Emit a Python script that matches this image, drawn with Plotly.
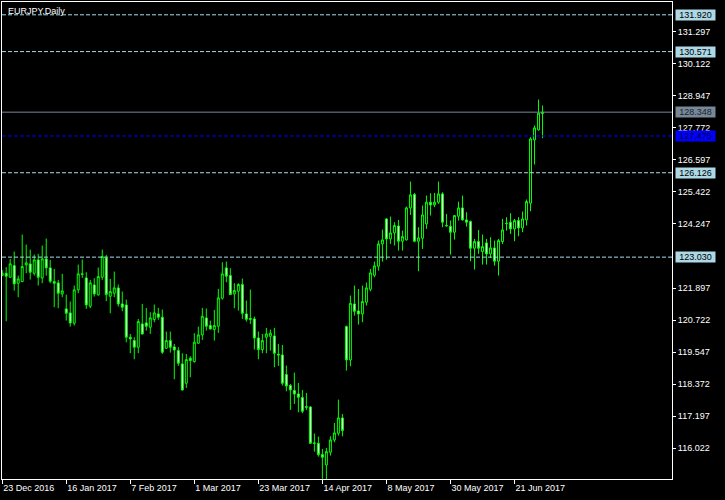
import plotly.graph_objects as go

# ---------------- data ----------------
tick_labels = ["23 Dec 2016", "16 Jan 2017", "7 Feb 2017", "1 Mar 2017", "23 Mar 2017",
               "14 Apr 2017", "8 May 2017", "30 May 2017", "21 Jun 2017"]
tick_bars = [0, 16, 32, 48, 64, 80, 96, 112, 128]

opens = [122.36, 122.439, 122.293, 122.721, 122.072, 122.134, 122.745, 122.782, 122.439, 122.929,
         122.268, 122.965, 122.635, 122.134, 122.085, 121.681, 121.131, 120.984, 120.605, 121.828,
         122.415, 122.268, 121.228, 122.011, 121.644, 122.293, 123.002, 121.595, 121.705, 121.901,
         121.314, 121.277, 120.091, 119.968, 119.724, 120.580, 120.617, 120.458, 120.739, 120.947,
         120.825, 119.687, 119.968, 119.736, 119.601, 119.112, 118.403, 119.320, 119.198, 119.871,
         120.176, 120.800, 120.519, 120.372, 120.494, 121.522, 122.635, 122.354, 121.681, 121.779,
         122.023, 120.947, 120.776, 120.764, 120.066, 119.638, 120.091, 120.127, 120.140, 119.467,
         119.442, 118.721, 118.317, 118.134, 118.011, 117.877, 117.546, 117.534, 116.213, 116.201,
         115.785, 115.406, 115.871, 116.323, 116.568, 117.131, 120.481, 119.258, 121.313, 121.056,
         120.946, 121.374, 121.851, 122.365, 122.695, 123.515, 124.432, 123.698, 123.919, 124.175,
         123.613, 123.662, 124.836, 125.325, 123.613, 123.723, 124.249, 125.044, 124.946, 125.044,
         125.350, 124.188, 124.163, 123.943, 124.530, 124.836, 124.396, 124.335, 123.356, 123.601,
         123.233, 123.552, 123.148, 123.368, 122.879, 123.601, 124.273, 124.310, 124.065, 124.371,
         124.102, 124.396, 125.008, 127.332, 127.699, 128.298]
highs = [122.56, 122.659, 122.965, 123.234, 122.354, 123.858, 123.491, 123.308, 123.124, 123.149,
         123.455, 123.711, 122.929, 122.598, 122.195, 122.415, 121.656, 121.400, 121.987, 122.757,
         122.941, 122.476, 122.195, 122.256, 122.647, 123.308, 123.112, 122.231, 122.500, 122.024,
         121.767, 121.473, 120.213, 120.091, 120.763, 121.314, 121.167, 121.008, 121.290, 121.167,
         121.106, 120.299, 120.299, 119.846, 119.724, 119.504, 119.479, 119.394, 120.238, 120.482,
         121.167, 121.143, 120.702, 121.094, 121.864, 122.843, 122.867, 122.623, 122.072, 122.072,
         122.244, 121.436, 121.840, 120.849, 120.299, 120.213, 120.433, 120.372, 120.433, 119.846,
         119.809, 119.051, 118.378, 118.794, 118.415, 118.158, 118.048, 117.559, 116.556, 116.446,
         115.993, 116.029, 116.458, 116.947, 117.803, 117.277, 120.518, 121.619, 121.986, 121.864,
         121.986, 122.096, 122.597, 122.867, 123.637, 124.041, 124.457, 124.518, 124.310, 124.396,
         124.004, 124.885, 125.802, 125.386, 124.127, 124.922, 125.289, 125.374, 125.386, 125.802,
         125.411, 124.616, 124.371, 124.570, 125.068, 125.289, 124.677, 124.371, 123.698, 124.029,
         123.857, 123.698, 123.760, 123.637, 123.698, 124.432, 124.494, 124.640, 124.432, 124.494,
         124.701, 125.142, 127.430, 127.858, 128.812, 128.592]
lows = [122.33, 120.678, 122.27, 121.803, 121.559, 122.109, 122.439, 122.207, 122.354, 121.987,
        122.072, 122.354, 122.072, 121.192, 121.155, 121.559, 120.702, 120.482, 120.519, 121.705,
        122.268, 121.131, 121.155, 121.583, 121.620, 122.195, 121.412, 120.971, 121.559, 121.216,
        121.045, 119.907, 119.504, 119.283, 119.504, 120.189, 120.335, 120.213, 120.641, 120.727,
        119.479, 119.663, 119.528, 118.550, 119.039, 118.134, 118.232, 118.623, 119.161, 119.846,
        119.993, 120.335, 120.372, 119.968, 120.250, 121.473, 122.109, 121.644, 121.155, 121.069,
        120.764, 120.666, 120.580, 119.638, 119.283, 119.503, 119.503, 119.601, 118.990, 119.039,
        118.317, 118.109, 117.424, 117.644, 117.339, 117.302, 117.424, 116.176, 115.895, 115.712,
        114.900, 114.880, 115.748, 116.238, 116.482, 116.458, 118.867, 119.026, 120.885, 120.555,
        120.641, 121.252, 121.778, 122.292, 122.536, 122.867, 122.940, 123.515, 123.454, 123.270,
        123.270, 123.637, 124.579, 123.576, 122.512, 123.331, 124.065, 124.555, 124.861, 124.983,
        124.127, 124.163, 123.124, 123.674, 124.371, 124.371, 124.151, 122.879, 122.573, 123.148,
        122.757, 122.757, 123.001, 122.720, 122.353, 123.515, 124.004, 123.882, 123.613, 123.796,
        123.943, 124.188, 124.714, 126.426, 127.674, 127.393]
closes = [122.44, 122.329, 122.782, 122.048, 122.231, 122.684, 122.819, 122.476, 122.929, 122.293,
          122.965, 122.635, 122.146, 122.072, 121.705, 121.791, 120.971, 120.617, 121.828, 122.415,
          122.403, 121.277, 122.085, 121.681, 122.317, 123.051, 121.656, 121.767, 121.901, 121.314,
          121.192, 120.091, 120.030, 119.724, 120.666, 120.213, 120.494, 120.800, 120.984, 120.825,
          119.541, 119.968, 119.724, 119.626, 119.137, 118.158, 119.271, 119.234, 119.907, 120.176,
          120.861, 120.494, 120.397, 120.519, 121.534, 122.415, 122.329, 121.656, 121.803, 122.024,
          120.971, 120.751, 120.751, 120.066, 119.638, 119.968, 120.213, 120.238, 119.503, 119.442,
          118.403, 118.305, 118.158, 118.011, 117.889, 117.375, 117.522, 116.201, 116.201, 115.785,
          115.687, 115.895, 116.323, 116.580, 117.131, 116.666, 119.258, 121.337, 121.044, 120.946,
          121.399, 121.900, 122.451, 122.708, 123.515, 123.662, 123.698, 123.919, 124.188, 123.613,
          123.784, 124.836, 125.313, 123.613, 123.735, 124.579, 125.044, 124.946, 125.044, 125.350,
          124.310, 124.176, 123.943, 124.555, 124.836, 124.396, 124.310, 123.356, 123.601, 123.356,
          123.417, 123.148, 123.368, 122.879, 123.637, 124.029, 124.261, 124.065, 124.371, 124.102,
          124.432, 125.068, 127.368, 127.772, 128.310, 128.348]

price_ticks = [116.022, 117.197, 118.372, 119.547, 120.722, 121.897,
               124.247, 125.422, 126.597, 127.772, 128.947, 130.122, 131.297]
level_prices = [131.920, 130.571, 126.126, 123.030]
bid_price = 128.348
ask_price = 127.475

title_text = "EURJPY,Daily"

# ---------------- figure ----------------
bars = list(range(len(opens)))
GREEN = "#00FF00"
FONT = "Liberation Sans, Arial, sans-serif"

fig = go.Figure()
fig.add_trace(go.Candlestick(
    x=bars, open=opens, high=highs, low=lows, close=closes,
    increasing=dict(line=dict(color=GREEN, width=1), fillcolor="black"),
    decreasing=dict(line=dict(color=GREEN, width=1), fillcolor="white"),
    whiskerwidth=0, hoverinfo="skip", showlegend=False,
))

shapes = []
annotations = []
for lv in level_prices:
    shapes.append(dict(type="line", xref="paper", x0=0, x1=1, yref="y", y0=lv, y1=lv,
                       line=dict(color="#A6DCEB", width=1, dash="4px,2px"), layer="above"))
    annotations.append(dict(xref="paper", x=1, xanchor="left", xshift=3, yref="y", y=lv,
                            yanchor="middle", text=f"{lv:.3f}", showarrow=False,
                            bgcolor="#ADD8E6", width=39, height=10, borderpad=0,
                            font=dict(family=FONT, size=9, color="black")))
shapes.append(dict(type="line", xref="paper", x0=0, x1=1, yref="y", y0=bid_price, y1=bid_price,
                   line=dict(color="#778899", width=1), layer="above"))
annotations.append(dict(xref="paper", x=1, xanchor="left", xshift=3, yref="y", y=bid_price,
                        yanchor="middle", text=f"{bid_price:.3f}", showarrow=False,
                        bgcolor="#778899", width=39, height=10, borderpad=0,
                        font=dict(family=FONT, size=9, color="#1e2328")))
shapes.append(dict(type="line", xref="paper", x0=0, x1=1, yref="y", y0=ask_price, y1=ask_price,
                   line=dict(color="#0000FF", width=1, dash="4px,2px"), layer="above"))
annotations.append(dict(xref="paper", x=1, xanchor="left", xshift=3, yref="y", y=ask_price,
                        yanchor="middle", text=f"{ask_price:.3f}", showarrow=False,
                        bgcolor="#0000FF", width=39, height=10, borderpad=0,
                        font=dict(family=FONT, size=9, color="#000030")))
annotations.append(dict(xref="paper", x=0, xanchor="left", xshift=4, yref="paper", y=1,
                        yanchor="top", yshift=-2, text=title_text, showarrow=False,
                        font=dict(family=FONT, size=9, color="white")))

fig.update_layout(
    width=725, height=500,
    paper_bgcolor="black", plot_bgcolor="black",
    margin=dict(l=2, r=53, t=2, b=21, autoexpand=False),
    showlegend=False, boxgap=0.3,
    font=dict(family=FONT, size=9, color="white"),
    shapes=shapes, annotations=annotations,
    xaxis=dict(range=[-0.05, 167.35], tickmode="array", tickvals=tick_bars, ticktext=tick_labels,
               ticks="outside", ticklen=4, tickcolor="white", tickwidth=1,
               ticklabelposition="outside right", automargin=False,
               showline=True, linecolor="white", linewidth=1, mirror=True,
               showgrid=False, zeroline=False, rangeslider=dict(visible=False),
               tickfont=dict(family=FONT, size=9, color="white"), fixedrange=True),
    yaxis=dict(side="right", range=[114.89, 132.39], tickmode="array", tickvals=price_ticks,
               ticktext=[f"{v:.3f}" for v in price_ticks], automargin=False,
               ticks="outside", ticklen=3, tickcolor="white", tickwidth=1,
               showline=True, linecolor="white", linewidth=1, mirror=True,
               showgrid=False, zeroline=False,
               tickfont=dict(family=FONT, size=9, color="white"), fixedrange=True),
)

fig.write_html("out.html", config={"displayModeBar": False},
               post_script="document.body.style.margin='0';document.body.style.background='black';")
